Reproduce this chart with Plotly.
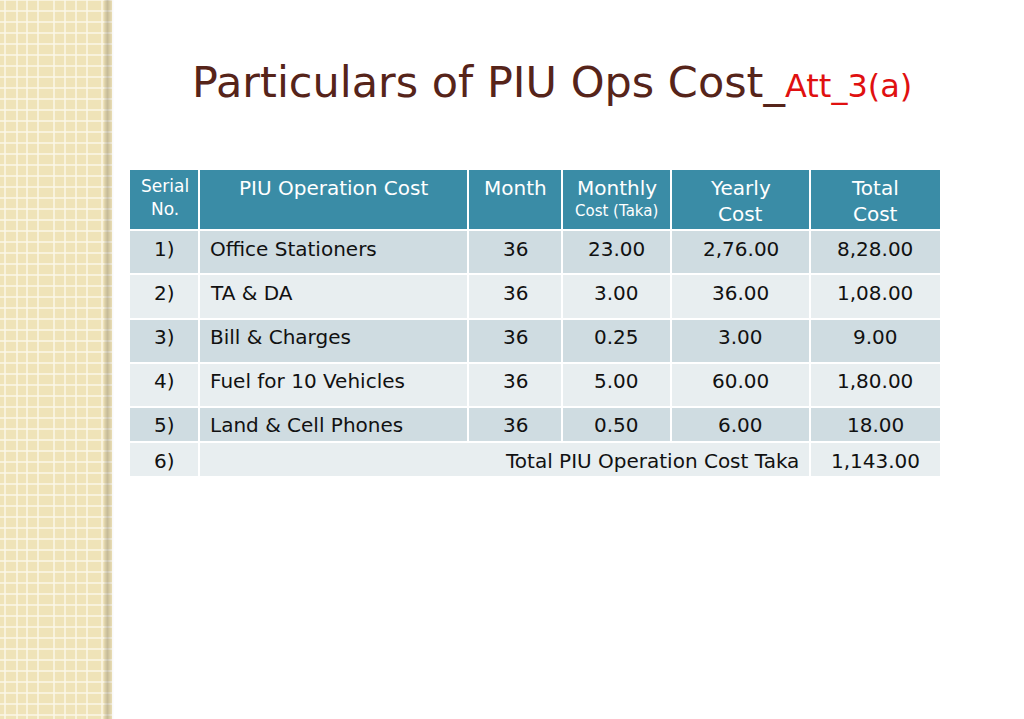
import plotly.graph_objects as go

# ---- data ----
serials = ["1)", "2)", "3)", "4)", "5)", "6)"]
items = ["Office Stationers", "TA & DA", "Bill & Charges", "Fuel for 10 Vehicles", "Land & Cell Phones"]
months = ["36", "36", "36", "36", "36"]
monthly_cost = ["23.00", "3.00", "0.25", "5.00", "0.50"]
yearly_cost = ["2,76.00", "36.00", "3.00", "60.00", "6.00"]
total_cost = ["8,28.00", "1,08.00", "9.00", "1,80.00", "18.00"]
total_label = "Total PIU Operation Cost Taka"
grand_total = "1,143.00"
title_main = "Particulars of PIU Ops Cost_"
title_sub = "Att_3(a)"

# ---- layout constants (pixels) ----
W, H = 1024, 719
FONT = "DejaVu Sans, sans-serif"
col_x = [130, 199, 468, 562, 671, 810, 940]
row_y = [170, 230, 274, 319, 363, 407, 442, 477]
HEAD = "#3a8ca6"
DARK = "#cfdce1"
LIGHT = "#e8eef0"
TXT = "#111111"

shapes = []
ann = []

def rect(x0, y0, x1, y1, color, opacity=1.0):
    shapes.append(dict(type="rect", xref="x", yref="y", x0=x0, y0=y0, x1=x1, y1=y1,
                       fillcolor=color, line=dict(width=0), layer="below", opacity=opacity))

def line(x0, y0, x1, y1, color, w):
    shapes.append(dict(type="line", xref="x", yref="y", x0=x0, y0=y0, x1=x1, y1=y1,
                       line=dict(color=color, width=w), layer="below"))

def text(x, y, s, size, color=TXT, xanchor="center"):
    ann.append(dict(x=x, y=y, xref="x", yref="y", text=s, showarrow=False,
                    xanchor=xanchor, yanchor="middle",
                    font=dict(family=FONT, size=size, color=color)))

# left decorative strip
rect(0, 0, 112, H, "#efe3b8")
for gx in [5, 17, 27, 38, 54, 65, 76, 87, 102]:
    line(gx, 0, gx, H, "#fbf7e9", 1.5)
gy = 0
while gy < H:
    line(0, gy, 112, gy, "#fbf7e9", 1.5)
    gy += 11
for i, op in enumerate([0.10, 0.18, 0.25, 0.3, 0.25, 0.18, 0.12, 0.07, 0.04, 0.02]):
    rect(104 + i, 0, 105 + i, H, "#6b6450", op)

# title
ann.append(dict(x=190, y=82, xref="x", yref="y", showarrow=False, xanchor="left", yanchor="middle",
                text=f"<span style='color:#56241a;font-size:43px'>{title_main}</span>"
                     f"<span style='color:#e01010;font-size:32px'>{title_sub}</span>",
                font=dict(family=FONT, size=43, color="#56241a")))

# table background cells
rect(col_x[0], row_y[0], col_x[-1], row_y[1] - 1, HEAD)
for r in range(6):
    rect(col_x[0], row_y[r + 1] + 1, col_x[-1], row_y[r + 2] - 1, DARK if r % 2 == 0 else LIGHT)
# vertical separators
for cx in col_x[1:-1]:
    line(cx, row_y[0], cx, row_y[6], "white", 2)
for cx in [col_x[1], col_x[5]]:
    line(cx, row_y[6], cx, row_y[7], "white", 2)

# header text
cxs = [(col_x[i] + col_x[i + 1]) / 2 for i in range(6)]
WH = "white"
text(cxs[0], 186, "Serial", 17, WH)
text(cxs[0], 209, "No.", 17, WH)
text(cxs[1], 188, "PIU Operation Cost", 20, WH)
text(cxs[2], 188, "Month", 20, WH)
text(cxs[3], 188, "Monthly", 20, WH)
text(cxs[3], 211, "Cost (Taka)", 15, WH)
text(cxs[4], 188, "Yearly", 20, WH)
text(cxs[4], 214, "Cost", 20, WH)
text(cxs[5], 188, "Total", 20, WH)
text(cxs[5], 214, "Cost", 20, WH)

# body rows
row_cy = [249, 293, 337, 381, 425, 461]
for r in range(5):
    y = row_cy[r]
    text(cxs[0], y, serials[r], 20)
    text(208, y, items[r], 20, xanchor="left")
    text(cxs[2], y, months[r], 20)
    text(cxs[3], y, monthly_cost[r], 20)
    text(cxs[4], y, yearly_cost[r], 20)
    text(cxs[5], y, total_cost[r], 20)
text(cxs[0], row_cy[5], serials[5], 20)
text(801, row_cy[5], total_label, 20, xanchor="right")
text(cxs[5], row_cy[5], grand_total, 20)

fig = go.Figure()
fig.update_layout(
    width=W, height=H, margin=dict(l=0, r=0, t=0, b=0),
    paper_bgcolor="white", plot_bgcolor="white",
    xaxis=dict(range=[0, W], visible=False, fixedrange=True),
    yaxis=dict(range=[H, 0], visible=False, fixedrange=True),
    shapes=shapes, annotations=ann, showlegend=False,
)
fig.write_html("out.html", config={"displayModeBar": False},
               post_script="document.body.style.margin='0';document.body.style.overflow='hidden';")
